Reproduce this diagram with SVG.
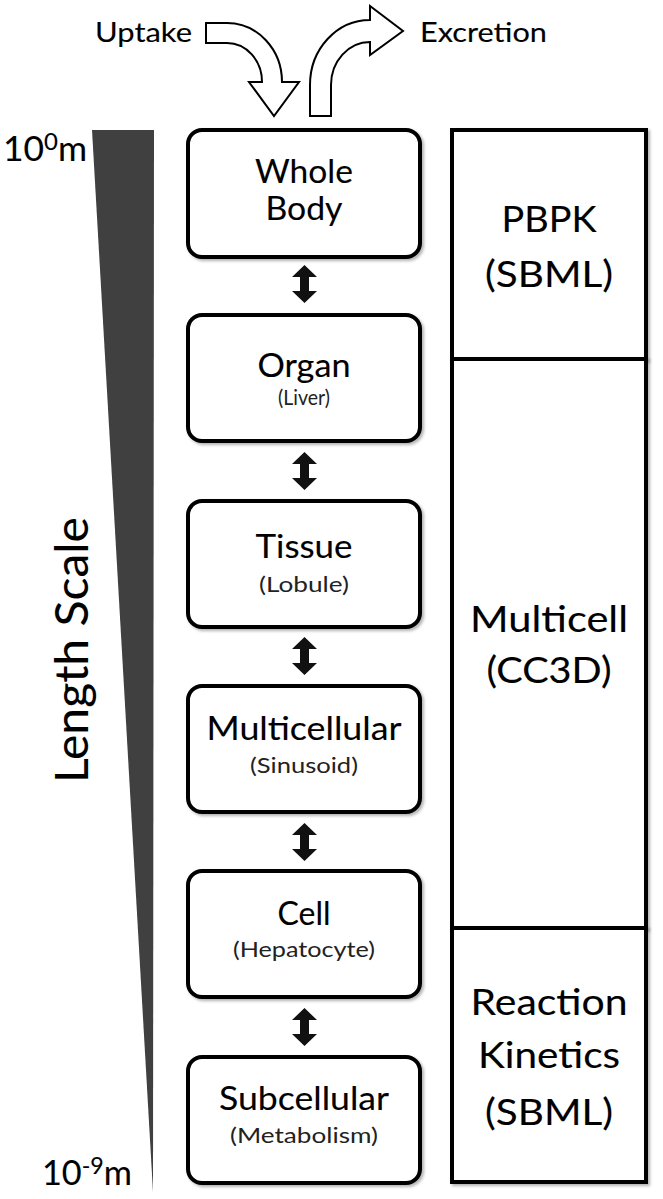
<svg xmlns="http://www.w3.org/2000/svg" width="663" height="1199" viewBox="0 0 663 1199">
<defs>
<style>
text{font-family:Lato,"Open Sans","Liberation Sans",sans-serif;fill:#000;stroke:#000;stroke-width:0.12;text-anchor:middle}
.box{fill:#fff;stroke:#000;stroke-width:4}
.main{font-size:33px}
.sub{font-size:21px;fill:#222;stroke:none}
.panel{font-size:36px}
.lbl{font-size:27px;text-anchor:start}
.exp{font-size:34px;text-anchor:start}
.bigarrow{fill:#fff;stroke:#000;stroke-width:2;stroke-linejoin:miter}
.dbl{fill:#111}
</style>
<filter id="sh" x="-10%" y="-10%" width="130%" height="130%">
<feDropShadow dx="2" dy="2" stdDeviation="1.5" flood-color="#000" flood-opacity="0.3"/>
</filter>
<path id="dblarrow" d="M0,-19 L12.5,-7 L4.5,-7 L4.5,7 L12.5,7 L0,19 L-12.5,7 L-4.5,7 L-4.5,-7 L-12.5,-7 Z"/>
</defs>
<rect width="663" height="1199" fill="#fff"/>

<g id="scale">
<polygon points="92,130 154,130 153,1192" fill="#404040"/>
<text class="exp" x="3" y="161" textLength="84" lengthAdjust="spacingAndGlyphs">10<tspan font-size="23px" dy="-11">0</tspan><tspan dy="11">m</tspan></text>
<text class="exp" x="42" y="1185" textLength="90" lengthAdjust="spacingAndGlyphs">10<tspan font-size="23px" dy="-11">-9</tspan><tspan dy="11">m</tspan></text>
<text x="0" y="0" font-size="46px" textLength="266" lengthAdjust="spacingAndGlyphs" transform="translate(88,650) rotate(-90)">Length Scale</text>
</g>

<g id="io">
<path class="bigarrow" d="M206,23 L227,23 A55,59 0 0 1 282,82 L299,82 L274,116 L249,82 L262,82 A35,39 0 0 0 227,43 L206,43 Z"/>
<path class="bigarrow" d="M310,116 L310,85 A60,65 0 0 1 370,20 L370,6 L403,31 L370,55 L370,42 A39,43 0 0 0 331,85 L331,116 Z"/>
<text class="lbl" x="95" y="42" textLength="97" lengthAdjust="spacingAndGlyphs">Uptake</text>
<text class="lbl" x="420" y="42" textLength="127" lengthAdjust="spacingAndGlyphs">Excretion</text>
</g>

<g id="whole-body">
<rect class="box" x="188" y="130" width="232" height="127" rx="14" filter="url(#sh)"/>
<text class="main" x="304" y="183" textLength="98" lengthAdjust="spacingAndGlyphs">Whole</text>
<text class="main" x="304" y="220" textLength="77" lengthAdjust="spacingAndGlyphs">Body</text>
</g>
<g id="organ">
<rect class="box" x="188" y="315" width="232" height="126" rx="14" filter="url(#sh)"/>
<text class="main" x="304" y="377" textLength="93" lengthAdjust="spacingAndGlyphs">Organ</text>
<text class="sub" x="304" y="405" textLength="52" lengthAdjust="spacingAndGlyphs">(Liver)</text>
</g>
<g id="tissue">
<rect class="box" x="188" y="501" width="232" height="126" rx="14" filter="url(#sh)"/>
<text class="main" x="304" y="558" textLength="97" lengthAdjust="spacingAndGlyphs">Tissue</text>
<text class="sub" x="304" y="592" textLength="90" lengthAdjust="spacingAndGlyphs">(Lobule)</text>
</g>
<g id="multicellular">
<rect class="box" x="188" y="686" width="232" height="126" rx="14" filter="url(#sh)"/>
<text class="main" x="304" y="740" textLength="195" lengthAdjust="spacingAndGlyphs">Multicellular</text>
<text class="sub" x="304" y="773" textLength="108" lengthAdjust="spacingAndGlyphs">(Sinusoid)</text>
</g>
<g id="cell">
<rect class="box" x="188" y="871" width="232" height="126" rx="14" filter="url(#sh)"/>
<text class="main" x="304" y="925" textLength="53" lengthAdjust="spacingAndGlyphs">Cell</text>
<text class="sub" x="304" y="957" textLength="142" lengthAdjust="spacingAndGlyphs">(Hepatocyte)</text>
</g>
<g id="subcellular">
<rect class="box" x="188" y="1057" width="232" height="126" rx="14" filter="url(#sh)"/>
<text class="main" x="304" y="1110" textLength="170" lengthAdjust="spacingAndGlyphs">Subcellular</text>
<text class="sub" x="304" y="1143" textLength="148" lengthAdjust="spacingAndGlyphs">(Metabolism)</text>
</g>

<g id="connectors">
<use href="#dblarrow" class="dbl" x="304.5" y="284"/>
<use href="#dblarrow" class="dbl" x="304.5" y="471"/>
<use href="#dblarrow" class="dbl" x="304.5" y="656"/>
<use href="#dblarrow" class="dbl" x="304.5" y="842"/>
<use href="#dblarrow" class="dbl" x="304.5" y="1027"/>
</g>

<g id="pbpk">
<rect class="box" x="452" y="130" width="194" height="229" filter="url(#sh)"/>
<text class="panel" x="549" y="232" textLength="95" lengthAdjust="spacingAndGlyphs">PBPK</text>
<text class="panel" x="549" y="287" textLength="128" lengthAdjust="spacingAndGlyphs">(SBML)</text>
</g>
<g id="multicell">
<rect class="box" x="452" y="359" width="194" height="569" filter="url(#sh)"/>
<text class="panel" x="549" y="632" textLength="158" lengthAdjust="spacingAndGlyphs">Multicell</text>
<text class="panel" x="549" y="683" textLength="125" lengthAdjust="spacingAndGlyphs">(CC3D)</text>
</g>
<g id="reaction-kinetics">
<rect class="box" x="452" y="928" width="194" height="254" filter="url(#sh)"/>
<text class="panel" x="549" y="1015" textLength="157" lengthAdjust="spacingAndGlyphs">Reaction</text>
<text class="panel" x="549" y="1068" textLength="142" lengthAdjust="spacingAndGlyphs">Kinetics</text>
<text class="panel" x="549" y="1125" textLength="128" lengthAdjust="spacingAndGlyphs">(SBML)</text>
</g>
</svg>
